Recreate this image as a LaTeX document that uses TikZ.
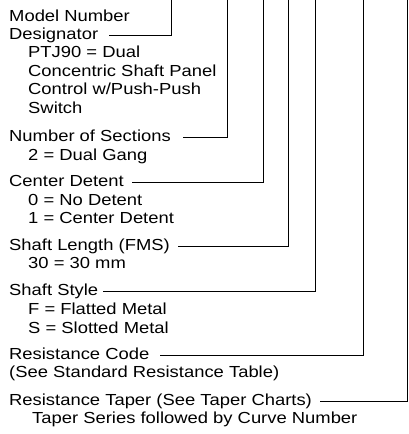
\documentclass[tikz,border=0pt]{standalone}
\usepackage{fontspec}
\setmainfont{Liberation Sans}[FakeStretch=1.15]
\tikzset{
  lbl/.style={anchor=base west, inner sep=0pt, text height=11.5pt, text depth=3.5pt},
  lead/.style={line width=1pt}
}
\begin{document}
\begin{tikzpicture}[x=1pt, y=-1pt, font=\fontsize{16}{18.4}\selectfont]
    \useasboundingbox (0,0) rectangle (409,434);
    % tops of the leader lines
    \coordinate (c1) at (171.7,0);
    \coordinate (c2) at (227.7,0);
    \coordinate (c3) at (263.3,0);
    \coordinate (c4) at (288.3,0);
    \coordinate (c5) at (315.7,0);
    \coordinate (c6) at (363.3,0);
    \coordinate (c7) at (407.3,0);
    % model number
    \node[lbl] (model) at (9,21.3) {Model Number};
    \node[lbl] (desig) at (9,39.5) {Designator};
    \node[lbl] (ptj) at (28,57.9) {PTJ90 = Dual};
    \node[lbl] (conc) at (28,76.3) {Concentric Shaft Panel};
    \node[lbl] (ctrl) at (28,94.7) {Control w/Push-Push};
    \node[lbl] (swt) at (28,113.1) {Switch};
    % sections
    \node[lbl] (sect) at (9,141.5) {Number of Sections};
    \node[lbl] (gang) at (28,160) {2 = Dual Gang};
    % detent
    \node[lbl] (det) at (9,186.5) {Center Detent};
    \node[lbl] (det0) at (28,205) {0 = No Detent};
    \node[lbl] (det1) at (28,223.4) {1 = Center Detent};
    % shaft length
    \node[lbl] (len) at (9,250) {Shaft Length (FMS)};
    \node[lbl] (len30) at (28,268.7) {30 = 30 mm};
    % shaft style
    \node[lbl] (sty) at (9,295.3) {Shaft Style};
    \node[lbl] (styf) at (28,314.5) {F = Flatted Metal};
    \node[lbl] (stys) at (28,333) {S = Slotted Metal};
    % resistance
    \node[lbl] (res) at (9,359) {Resistance Code};
    \node[lbl] (restab) at (9,377.5) {(See Standard Resistance Table)};
    \node[lbl] (tap) at (9,405.5) {Resistance Taper (See Taper Charts)};
    \node[lbl] (tapser) at (32,423) {Taper Series followed by Curve Number};
    % leaders
    \draw[lead] (desig.east -| 109,0) -| (c1);
    \draw[lead] (sect.east -| 183,0) -| (c2);
    \draw[lead] (det.east -| 132,0) -| (c3);
    \draw[lead] (len.east -| 178,0) -| (c4);
    \draw[lead] (sty.east -| 103,0) -| (c5);
    \draw[lead] (res.east -| 160,0) -| (c6);
    \draw[lead] (tap.east -| 320,0) -| (c7);
\end{tikzpicture}
\end{document}
